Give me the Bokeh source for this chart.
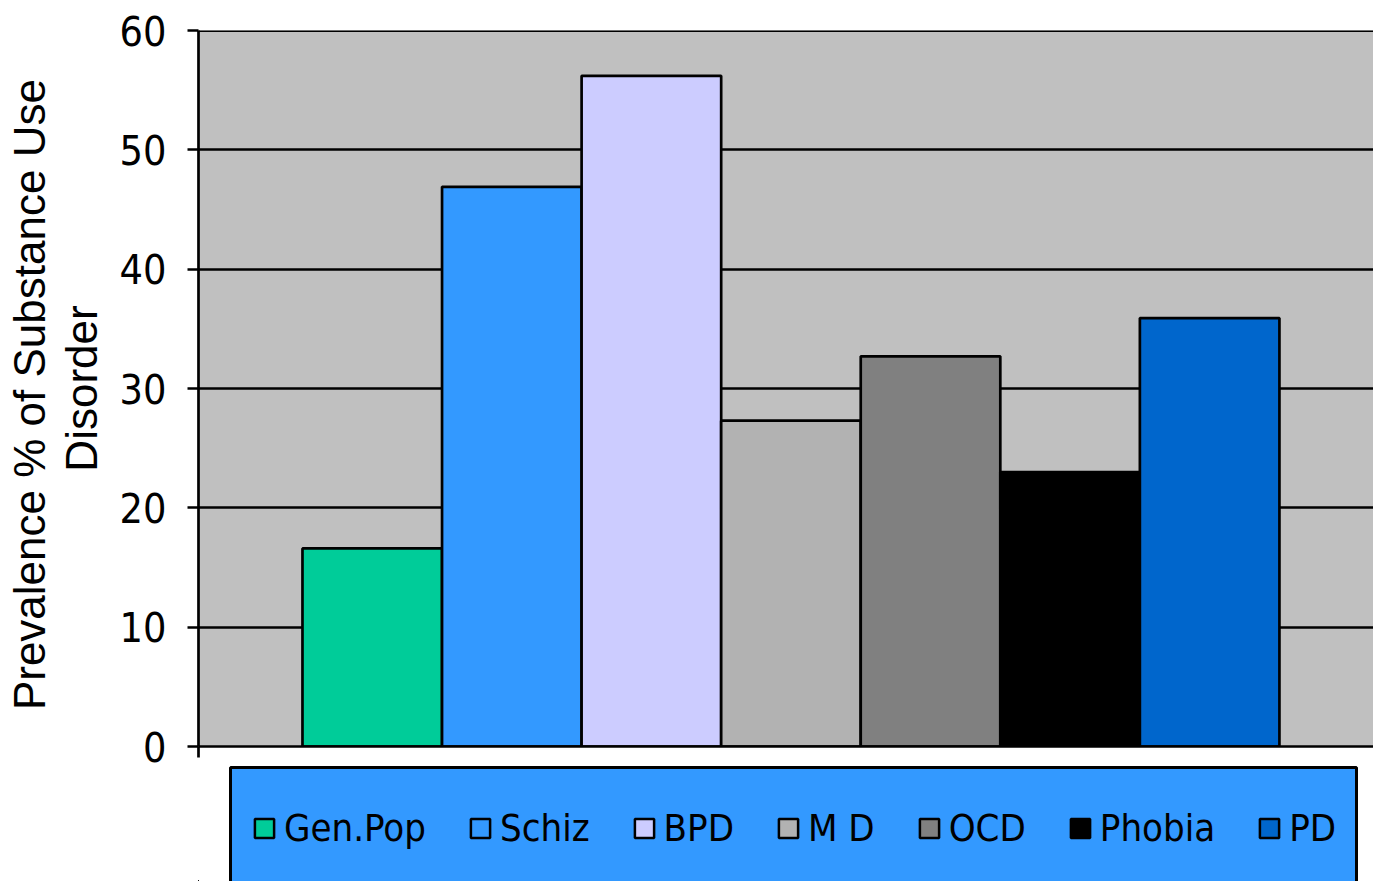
from bokeh.plotting import figure
from bokeh.layouts import column
from bokeh.models import (Range1d, FixedTicker, Legend, LegendItem, Span, LinearAxis,
                          ColumnDataSource)
from bokeh.embed import file_html
from bokeh.resources import INLINE

# ---- data ----
categories = ["Gen.Pop", "Schiz", "BPD", "M D", "OCD", "Phobia", "PD"]
prevalence = [16.6, 46.9, 56.2, 27.3, 32.7, 23.0, 35.9]
colors = ["#00CC99", "#3399FF", "#CCCCFF", "#B2B2B2", "#808080", "#000000", "#0066CC"]
y_ticks = [0, 10, 20, 30, 40, 50, 60]
y_title_lines = ["Prevalence % of  Substance Use", "Disorder"]

NARROW_FONT = "DejaVu Sans Condensed"
TITLE_FONT = "Liberation Sans"

positions = [i + 1 for i in range(len(categories))]
x_start, x_end = -0.245, 8.174

src = ColumnDataSource(dict(x=positions, top=prevalence, color=colors, cat=categories))

MAIN_H = 772
OVERLAP = 8
p = figure(width=1373, height=MAIN_H, output_backend="svg", toolbar_location=None,
           x_range=Range1d(x_start, x_end), y_range=Range1d(0, 60),
           min_border_left=198, min_border_right=0, min_border_top=30,
           min_border_bottom=MAIN_H - 746)
p.background_fill_color = "#C0C0C0"
p.border_fill_color = "white"
p.outline_line_color = None

# grid
p.xgrid.visible = False
p.ygrid.ticker = FixedTicker(ticks=y_ticks)
p.ygrid.grid_line_color = "black"
p.ygrid.grid_line_width = 2.7
p.add_layout(Span(location=y_ticks[-1], dimension="width", line_color="black", line_width=3))

p.vbar(x="x", top="top", width=1.0, bottom=0, source=src, fill_color="color",
       line_color="black", line_width=2.7)

# y axis (inner): ticks + second title line
p.yaxis.ticker = FixedTicker(ticks=y_ticks)
p.yaxis.axis_line_color = "black"
p.yaxis.axis_line_width = 2.7
p.yaxis.major_tick_line_color = "black"
p.yaxis.major_tick_line_width = 2.7
p.yaxis.major_tick_out = 11
p.yaxis.major_tick_in = 0
p.yaxis.minor_tick_line_color = None
p.yaxis.major_label_standoff = 21
p.yaxis.major_label_text_font = NARROW_FONT
p.yaxis.major_label_text_font_size = "41px"
p.yaxis.major_label_text_color = "black"
p.yaxis.axis_label = y_title_lines[1]
p.yaxis.axis_label_standoff = 11
p.yaxis.axis_label_text_font = TITLE_FONT
p.yaxis.axis_label_text_font_style = "normal"
p.yaxis.axis_label_text_font_size = "44px"
p.yaxis.axis_label_text_color = "black"

# outer label-only axis for the first title line
ax2 = LinearAxis(ticker=FixedTicker(ticks=[]), axis_line_color=None,
                 major_tick_line_color=None, minor_tick_line_color=None,
                 major_tick_out=0, major_tick_in=0, major_label_standoff=0,
                 axis_label=y_title_lines[0], axis_label_standoff=0,
                 axis_label_text_font=TITLE_FONT, axis_label_text_font_style="normal",
                 axis_label_text_font_size="44px", axis_label_text_color="black")
p.add_layout(ax2, "left")

# x axis: line plus single tick at left edge
p.xaxis.ticker = FixedTicker(ticks=[x_start])
p.xaxis.axis_line_color = "black"
p.xaxis.axis_line_width = 2.7
p.xaxis.major_tick_line_color = "black"
p.xaxis.major_tick_line_width = 2.7
p.xaxis.major_tick_out = 11
p.xaxis.major_tick_in = 0
p.xaxis.minor_tick_line_color = None
p.xaxis.major_label_text_font_size = "1px"
p.xaxis.major_label_text_color = None
p.xaxis.major_label_standoff = 0

# ---- legend panel ----
LEG_H = 881 - MAIN_H + OVERLAP
p2 = figure(width=1373, height=LEG_H, output_backend="svg", toolbar_location=None,
            x_range=Range1d(0, 1175), y_range=Range1d(0, LEG_H), x_axis_type=None, y_axis_type=None,
            min_border_left=198, min_border_right=0, min_border_top=0, min_border_bottom=0,
            margin=(-OVERLAP, 0, 0, 0))
p2.background_fill_alpha = 0
p2.border_fill_alpha = 0
p2.outline_line_color = None
p2.grid.visible = False

# blue legend box (pixel-like coordinates of the panel)
box_top = LEG_H - (767 - (MAIN_H - OVERLAP))
p2.quad(left=[32], right=[1158], bottom=[-5], top=[box_top], fill_color="#3399FF",
        line_color="black", line_width=3)

items = []
for cat, c in zip(categories, colors):
    r = p2.vbar(x=[-1000], top=[-200], bottom=[-300], width=1, fill_color=c,
                line_color="black", line_width=2.5)
    items.append(LegendItem(label=cat, renderers=[r]))

legend = Legend(items=items, orientation="horizontal", location=(54, box_top - 83),
                background_fill_alpha=0, border_line_color=None,
                margin=0, padding=0, spacing=42, label_standoff=8,
                glyph_width=24, glyph_height=24,
                label_text_font=NARROW_FONT, label_text_font_size="38px",
                label_text_color="black")
p2.add_layout(legend)

layout = column(p, p2, spacing=0)
open("out.html", "w").write(file_html(layout, INLINE))
